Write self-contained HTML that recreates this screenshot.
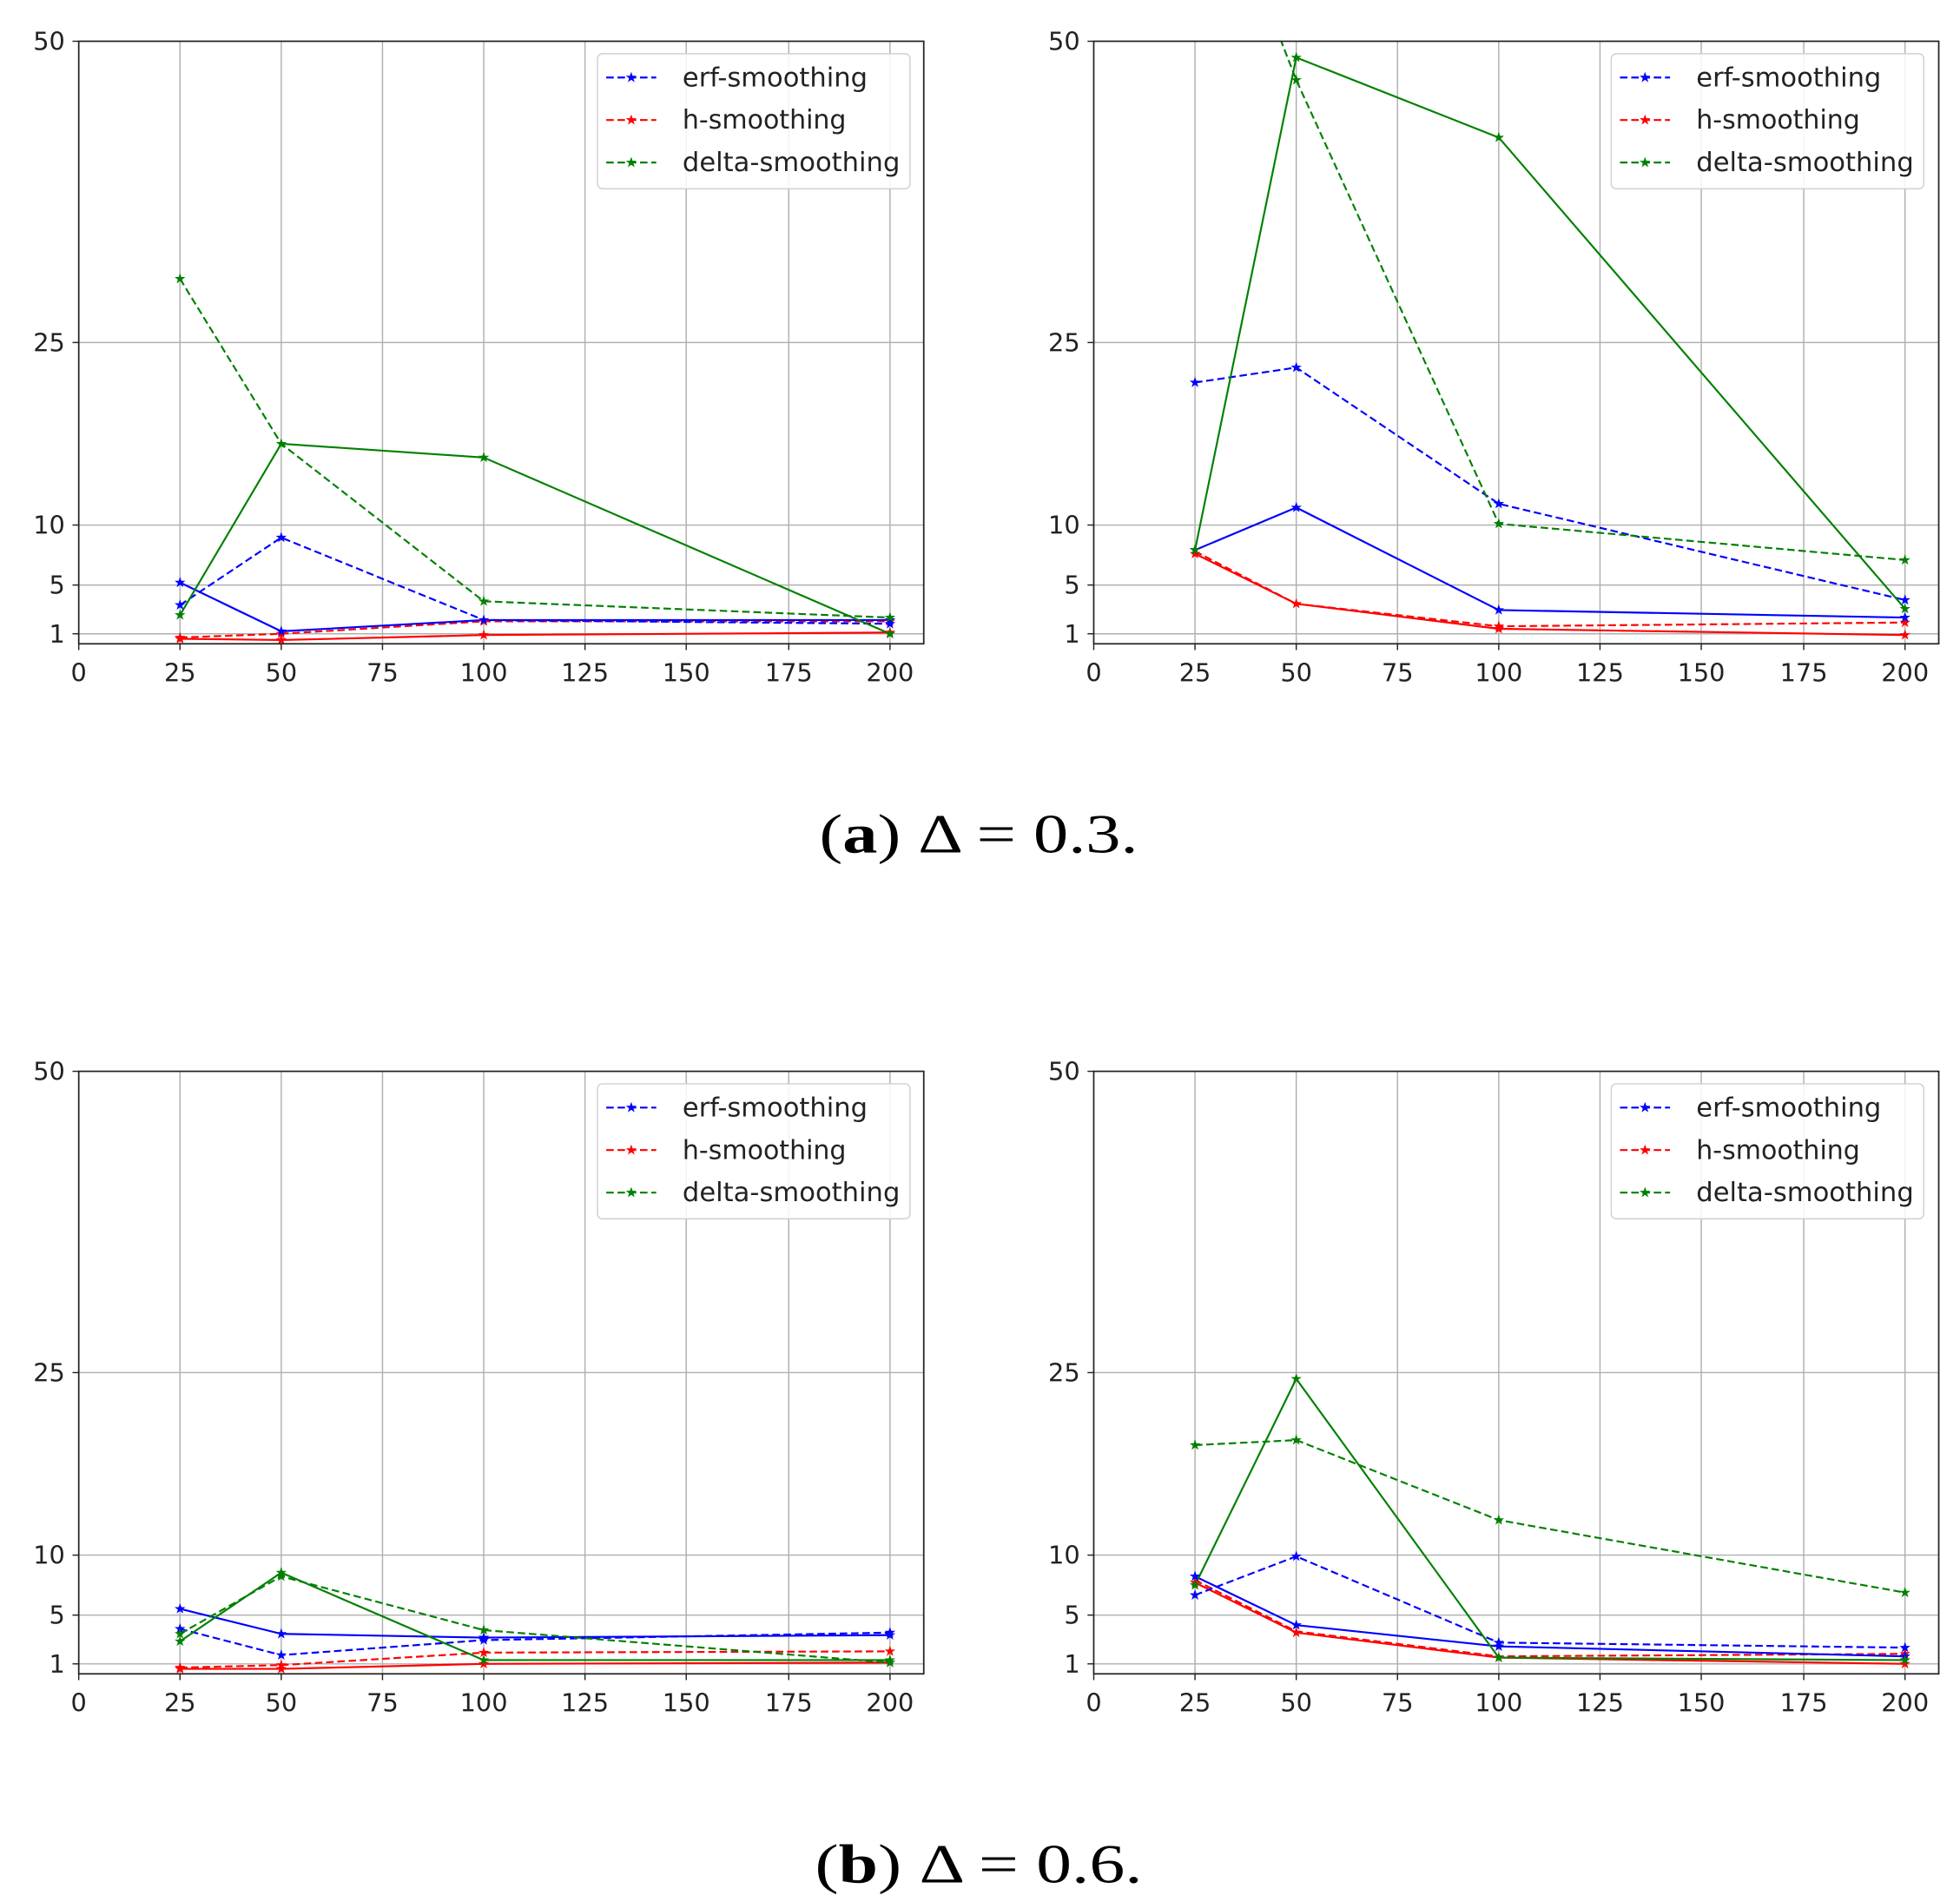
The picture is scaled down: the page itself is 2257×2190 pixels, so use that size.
<!DOCTYPE html>
<html><head><meta charset="utf-8"><style>html,body{margin:0;padding:0;background:#fff}svg{display:block}</style></head>
<body>
<svg xmlns="http://www.w3.org/2000/svg" xmlns:xlink="http://www.w3.org/1999/xlink" width="2257" height="2190" viewBox="0 0 1568 1521.5" preserveAspectRatio="none">
<defs>
<path id="st" d="M0,-4.5 L1.1,-1.4 L4.3,-1.4 L1.7,0.6 L2.7,3.7 L0,1.8 L-2.7,3.7 L-1.7,0.6 L-4.3,-1.4 L-1.1,-1.4Z"/>
<clipPath id="c1"><rect x="63" y="33" width="676" height="482"/></clipPath>
<g id="frame">
<g stroke="#b0b0b0" stroke-width="1">
<line x1="144" y1="33" x2="144" y2="515"/><line x1="225" y1="33" x2="225" y2="515"/><line x1="306" y1="33" x2="306" y2="515"/><line x1="387" y1="33" x2="387" y2="515"/><line x1="468" y1="33" x2="468" y2="515"/><line x1="549" y1="33" x2="549" y2="515"/><line x1="631" y1="33" x2="631" y2="515"/><line x1="712" y1="33" x2="712" y2="515"/>
<line x1="63" y1="274" x2="739" y2="274"/><line x1="63" y1="420" x2="739" y2="420"/><line x1="63" y1="468" x2="739" y2="468"/><line x1="63" y1="507" x2="739" y2="507"/>
</g>
<g stroke="#222" stroke-width="1">
<line x1="58" y1="33" x2="63" y2="33"/><line x1="58" y1="274" x2="63" y2="274"/><line x1="58" y1="420" x2="63" y2="420"/><line x1="58" y1="468" x2="63" y2="468"/><line x1="58" y1="507" x2="63" y2="507"/>
<line x1="63" y1="515" x2="63" y2="520"/><line x1="144" y1="515" x2="144" y2="520"/><line x1="225" y1="515" x2="225" y2="520"/><line x1="306" y1="515" x2="306" y2="520"/><line x1="387" y1="515" x2="387" y2="520"/><line x1="468" y1="515" x2="468" y2="520"/><line x1="549" y1="515" x2="549" y2="520"/><line x1="631" y1="515" x2="631" y2="520"/><line x1="712" y1="515" x2="712" y2="520"/>
</g>
<g font-family="DejaVu Sans, Liberation Sans, sans-serif" font-size="20" fill="#222">
<g text-anchor="end"><text x="52" y="40">50</text><text x="52" y="281">25</text><text x="52" y="427">10</text><text x="52" y="475">5</text><text x="52" y="514">1</text></g>
<g text-anchor="middle"><text x="63" y="545">0</text><text x="144" y="545">25</text><text x="225" y="545">50</text><text x="306" y="545">75</text><text x="387" y="545">100</text><text x="468" y="545">125</text><text x="549" y="545">150</text><text x="631" y="545">175</text><text x="712" y="545">200</text></g>
</g>
</g>
<g id="legend">
<rect x="478" y="43" width="250" height="108" rx="4" fill="#fff" fill-opacity="0.85" stroke="#d0d0d0" stroke-width="1"/>
<g stroke-width="1.5" stroke-dasharray="6,3">
<line x1="485" y1="62" x2="525" y2="62" stroke="#0000ff"/><line x1="485" y1="96" x2="525" y2="96" stroke="#ff0000"/><line x1="485" y1="130" x2="525" y2="130" stroke="#008000"/>
</g>
<use xlink:href="#st" x="505" y="62" fill="#0000ff"/><use xlink:href="#st" x="505" y="96" fill="#ff0000"/><use xlink:href="#st" x="505" y="130" fill="#008000"/>
<g font-family="DejaVu Sans, Liberation Sans, sans-serif" font-size="21" fill="#222">
<text x="546" y="69" textLength="148" lengthAdjust="spacingAndGlyphs">erf-smoothing</text>
<text x="546" y="103" textLength="131" lengthAdjust="spacingAndGlyphs">h-smoothing</text>
<text x="546" y="137" textLength="174" lengthAdjust="spacingAndGlyphs">delta-smoothing</text>
</g>
</g>
</defs>

<!-- Panel frames -->
<use xlink:href="#frame"/>
<use xlink:href="#frame" transform="translate(812,0)"/>
<use xlink:href="#frame" transform="translate(0,824)"/>
<use xlink:href="#frame" transform="translate(812,824)"/>

<g fill="none" stroke-width="1.5" stroke-linejoin="round">
<!-- TL -->
<g clip-path="url(#c1)">
<polyline points="144,511 225,512 387,508 712,506" stroke="#ff0000"/>
<polyline points="144,510 225,507 387,497 712,497" stroke="#ff0000" stroke-dasharray="6,3"/>
<polyline points="144,466 225,505 387,496 712,496" stroke="#0000ff"/>
<polyline points="144,484 225,430 387,496 712,499" stroke="#0000ff" stroke-dasharray="6,3"/>
<polyline points="144,492 225,355 387,366 712,507" stroke="#008000"/>
<polyline points="144,223 225,355 387,481 712,494" stroke="#008000" stroke-dasharray="6,3"/>
</g>
<!-- TR -->
<g clip-path="url(#c1)" transform="translate(812,0)">
<polyline points="144,443 225,483 387,503 712,508" stroke="#ff0000"/>
<polyline points="144,441 225,483 387,501 712,498" stroke="#ff0000" stroke-dasharray="6,3"/>
<polyline points="144,440 225,406 387,488 712,494" stroke="#0000ff"/>
<polyline points="144,306 225,294 387,403 712,480" stroke="#0000ff" stroke-dasharray="6,3"/>
<polyline points="144,440 225,46 387,110 712,487" stroke="#008000"/>
<polyline points="144,-145 225,64 387,419 712,448" stroke="#008000" stroke-dasharray="6,3"/>
</g>
<!-- BL -->
<g clip-path="url(#c1)" transform="translate(0,824)">
<polyline points="144,511 225,511 387,507 712,506" stroke="#ff0000"/>
<polyline points="144,510 225,508 387,498 712,497" stroke="#ff0000" stroke-dasharray="6,3"/>
<polyline points="144,463 225,483 387,486 712,484" stroke="#0000ff"/>
<polyline points="144,479 225,500 387,488 712,482" stroke="#0000ff" stroke-dasharray="6,3"/>
<polyline points="144,489 225,434 387,504 712,504" stroke="#008000"/>
<polyline points="144,483 225,437 387,480 712,506" stroke="#008000" stroke-dasharray="6,3"/>
</g>
<!-- BR -->
<g clip-path="url(#c1)" transform="translate(812,824)">
<polyline points="144,442 225,482 387,502 712,507" stroke="#ff0000"/>
<polyline points="144,440 225,481 387,501 712,499" stroke="#ff0000" stroke-dasharray="6,3"/>
<polyline points="144,437 225,476 387,493 712,501" stroke="#0000ff"/>
<polyline points="144,452 225,421 387,490 712,494" stroke="#0000ff" stroke-dasharray="6,3"/>
<polyline points="144,444 225,279 387,502 712,504" stroke="#008000"/>
<polyline points="144,332 225,328 387,392 712,450" stroke="#008000" stroke-dasharray="6,3"/>
</g>
</g>

<!-- markers -->
<g fill="#ff0000">
<use xlink:href="#st" x="144" y="511"/><use xlink:href="#st" x="225" y="512"/><use xlink:href="#st" x="387" y="508"/><use xlink:href="#st" x="712" y="506"/>
<use xlink:href="#st" x="144" y="510"/><use xlink:href="#st" x="225" y="507"/><use xlink:href="#st" x="387" y="497"/><use xlink:href="#st" x="712" y="497"/>
<use xlink:href="#st" x="956" y="443"/><use xlink:href="#st" x="1037" y="483"/><use xlink:href="#st" x="1199" y="503"/><use xlink:href="#st" x="1524" y="508"/>
<use xlink:href="#st" x="1524" y="498"/><use xlink:href="#st" x="1199" y="501"/>
<use xlink:href="#st" x="144" y="1335"/><use xlink:href="#st" x="225" y="1335"/><use xlink:href="#st" x="387" y="1331"/><use xlink:href="#st" x="712" y="1330"/>
<use xlink:href="#st" x="144" y="1334"/><use xlink:href="#st" x="225" y="1332"/><use xlink:href="#st" x="387" y="1322"/><use xlink:href="#st" x="712" y="1321"/>
<use xlink:href="#st" x="956" y="1266"/><use xlink:href="#st" x="1037" y="1306"/><use xlink:href="#st" x="1199" y="1326"/><use xlink:href="#st" x="1524" y="1331"/>
<use xlink:href="#st" x="1524" y="1323"/>
</g>
<g fill="#0000ff">
<use xlink:href="#st" x="144" y="466"/><use xlink:href="#st" x="225" y="505"/><use xlink:href="#st" x="387" y="496"/><use xlink:href="#st" x="712" y="496"/>
<use xlink:href="#st" x="144" y="484"/><use xlink:href="#st" x="225" y="430"/><use xlink:href="#st" x="712" y="499"/>
<use xlink:href="#st" x="956" y="440"/><use xlink:href="#st" x="1037" y="406"/><use xlink:href="#st" x="1199" y="488"/><use xlink:href="#st" x="1524" y="494"/>
<use xlink:href="#st" x="956" y="306"/><use xlink:href="#st" x="1037" y="294"/><use xlink:href="#st" x="1199" y="403"/><use xlink:href="#st" x="1524" y="480"/>
<use xlink:href="#st" x="144" y="1287"/><use xlink:href="#st" x="225" y="1307"/><use xlink:href="#st" x="387" y="1310"/><use xlink:href="#st" x="712" y="1308"/>
<use xlink:href="#st" x="144" y="1303"/><use xlink:href="#st" x="225" y="1324"/><use xlink:href="#st" x="387" y="1312"/><use xlink:href="#st" x="712" y="1306"/>
<use xlink:href="#st" x="956" y="1261"/><use xlink:href="#st" x="1037" y="1300"/><use xlink:href="#st" x="1199" y="1317"/><use xlink:href="#st" x="1524" y="1325"/>
<use xlink:href="#st" x="956" y="1276"/><use xlink:href="#st" x="1037" y="1245"/><use xlink:href="#st" x="1199" y="1314"/><use xlink:href="#st" x="1524" y="1318"/>
</g>
<g fill="#008000">
<use xlink:href="#st" x="144" y="492"/><use xlink:href="#st" x="225" y="355"/><use xlink:href="#st" x="387" y="366"/><use xlink:href="#st" x="712" y="507"/>
<use xlink:href="#st" x="144" y="223"/><use xlink:href="#st" x="387" y="481"/><use xlink:href="#st" x="712" y="494"/>
<use xlink:href="#st" x="956" y="440"/><use xlink:href="#st" x="1037" y="46"/><use xlink:href="#st" x="1199" y="110"/><use xlink:href="#st" x="1524" y="487"/>
<use xlink:href="#st" x="1037" y="64"/><use xlink:href="#st" x="1199" y="419"/><use xlink:href="#st" x="1524" y="448"/>
<use xlink:href="#st" x="144" y="1313"/><use xlink:href="#st" x="225" y="1258"/><use xlink:href="#st" x="387" y="1328"/><use xlink:href="#st" x="712" y="1328"/>
<use xlink:href="#st" x="144" y="1307"/><use xlink:href="#st" x="225" y="1261"/><use xlink:href="#st" x="387" y="1304"/><use xlink:href="#st" x="712" y="1330"/>
<use xlink:href="#st" x="956" y="1268"/><use xlink:href="#st" x="1037" y="1103"/><use xlink:href="#st" x="1199" y="1326"/><use xlink:href="#st" x="1524" y="1328"/>
<use xlink:href="#st" x="956" y="1156"/><use xlink:href="#st" x="1037" y="1152"/><use xlink:href="#st" x="1199" y="1216"/><use xlink:href="#st" x="1524" y="1274"/>
</g>

<!-- axes borders -->
<g fill="none" stroke="#222" stroke-width="1.2">
<rect x="63" y="33" width="676" height="482"/>
<rect x="875" y="33" width="676" height="482"/>
<rect x="63" y="857" width="676" height="482"/>
<rect x="875" y="857" width="676" height="482"/>
</g>

<use xlink:href="#legend"/>
<use xlink:href="#legend" transform="translate(811,0)"/>
<use xlink:href="#legend" transform="translate(0,824)"/>
<use xlink:href="#legend" transform="translate(811,824)"/>

<g font-family="Liberation Serif, serif" font-size="44" fill="#000" text-anchor="middle">
<text x="783" y="682" textLength="255" lengthAdjust="spacingAndGlyphs">(<tspan font-weight="bold">a</tspan>) Δ = 0.3.</text>
<text x="783" y="1506" textLength="262" lengthAdjust="spacingAndGlyphs">(<tspan font-weight="bold">b</tspan>) Δ = 0.6.</text>
</g>
</svg>
</body></html>
